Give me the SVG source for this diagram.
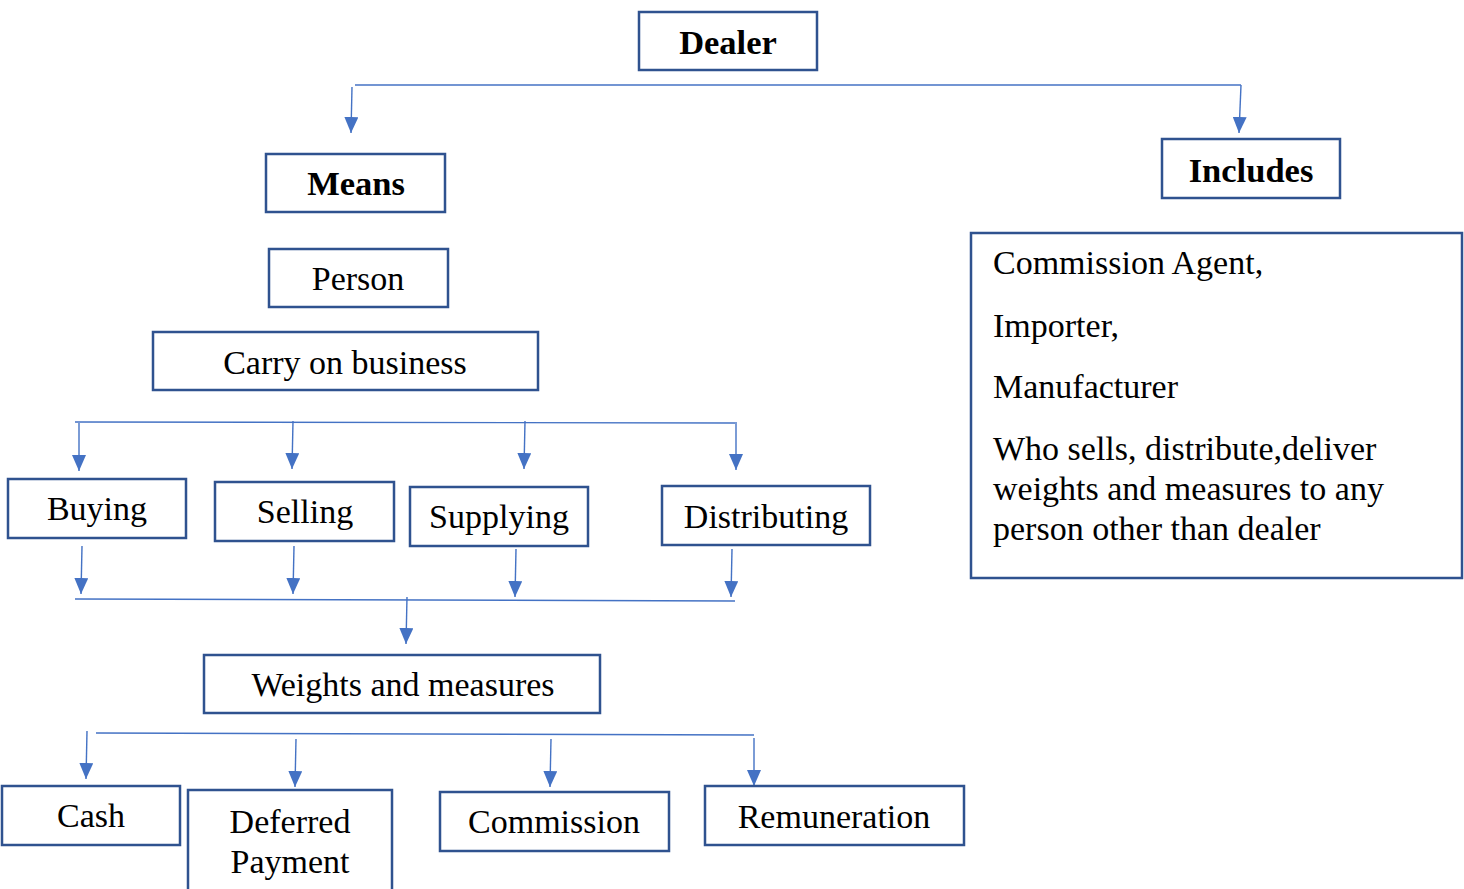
<svg xmlns="http://www.w3.org/2000/svg" width="1464" height="889" viewBox="0 0 1464 889">
<style>
.box{fill:#fff;stroke:#2F528F;stroke-width:2.5}
.t{font-family:"Liberation Serif","Times New Roman",serif;font-size:34px;fill:#000;text-anchor:middle}
.b{font-weight:bold;font-size:34.5px}
.l{text-anchor:start;font-size:34px}
.c{fill:none;stroke:#4472C4;stroke-width:1.4}
</style>
<defs>
<marker id="a" markerUnits="userSpaceOnUse" markerWidth="16" markerHeight="14" viewBox="0 0 16 14" refX="16" refY="7" orient="auto">
<path d="M0,0 L16,7 L0,14 Z" fill="#4472C4"/>
</marker>
</defs>
<g id="connectors">
<path class="c" d="M355,85 L1241,85"/>
<path class="c" d="M352,87 L351,133" marker-end="url(#a)"/>
<path class="c" d="M1241,85 L1239,133" marker-end="url(#a)"/>
<path class="c" d="M75,422 L735,423"/>
<path class="c" d="M79,423 L79,471" marker-end="url(#a)"/>
<path class="c" d="M293,421 L292,469" marker-end="url(#a)"/>
<path class="c" d="M525,421 L524,469" marker-end="url(#a)"/>
<path class="c" d="M736,422 L736,470" marker-end="url(#a)"/>
<path class="c" d="M82,546 L81,594" marker-end="url(#a)"/>
<path class="c" d="M294,546 L293,594" marker-end="url(#a)"/>
<path class="c" d="M516,549 L515,597" marker-end="url(#a)"/>
<path class="c" d="M732,549 L731,597" marker-end="url(#a)"/>
<path class="c" d="M75,599 L735,601"/>
<path class="c" d="M407,597 L406,644" marker-end="url(#a)"/>
<path class="c" d="M96,733 L754,735"/>
<path class="c" d="M87,731 L86,779" marker-end="url(#a)"/>
<path class="c" d="M296,739 L295,787" marker-end="url(#a)"/>
<path class="c" d="M551,739 L550,787" marker-end="url(#a)"/>
<path class="c" d="M754,738 L754,786" marker-end="url(#a)"/>
</g>
<g id="dealer"><rect class="box" x="639" y="12" width="178" height="58"/><text class="t b" x="728" y="54">Dealer</text></g>
<g id="means"><rect class="box" x="266" y="154" width="179" height="58"/><text class="t b" x="356" y="195">Means</text></g>
<g id="includes"><rect class="box" x="1162" y="139" width="178" height="59"/><text class="t b" x="1251" y="182">Includes</text></g>
<g id="person"><rect class="box" x="269" y="249" width="179" height="58"/><text class="t" x="358" y="290">Person</text></g>
<g id="carry"><rect class="box" x="153" y="332" width="385" height="58"/><text class="t" x="345" y="374">Carry on business</text></g>
<g id="includes-list"><rect class="box" x="971" y="233" width="491" height="345"/>
<text class="t l" x="993" y="274">Commission Agent,</text>
<text class="t l" x="993" y="337">Importer,</text>
<text class="t l" x="993" y="398">Manufacturer</text>
<text class="t l" x="993" y="460">Who sells, distribute,deliver</text>
<text class="t l" x="993" y="500">weights and measures to any</text>
<text class="t l" x="993" y="540">person other than dealer</text>
</g>
<g id="buying"><rect class="box" x="8" y="479" width="178" height="59"/><text class="t" x="97" y="520">Buying</text></g>
<g id="selling"><rect class="box" x="215" y="482" width="179" height="59"/><text class="t" x="305" y="523">Selling</text></g>
<g id="supplying"><rect class="box" x="410" y="487" width="178" height="59"/><text class="t" x="499" y="528">Supplying</text></g>
<g id="distributing"><rect class="box" x="662" y="486" width="208" height="59"/><text class="t" x="766" y="528">Distributing</text></g>
<g id="weights"><rect class="box" x="204" y="655" width="396" height="58"/><text class="t" x="403" y="696">Weights and measures</text></g>
<g id="cash"><rect class="box" x="2" y="786" width="178" height="59"/><text class="t" x="91" y="827">Cash</text></g>
<g id="deferred"><rect class="box" x="188" y="790" width="204" height="110"/><text class="t" x="290" y="833">Deferred</text><text class="t" x="290" y="873">Payment</text></g>
<g id="commission"><rect class="box" x="440" y="792" width="229" height="59"/><text class="t" x="554" y="833">Commission</text></g>
<g id="remuneration"><rect class="box" x="705" y="786" width="259" height="59"/><text class="t" x="834" y="828">Remuneration</text></g>
</svg>
